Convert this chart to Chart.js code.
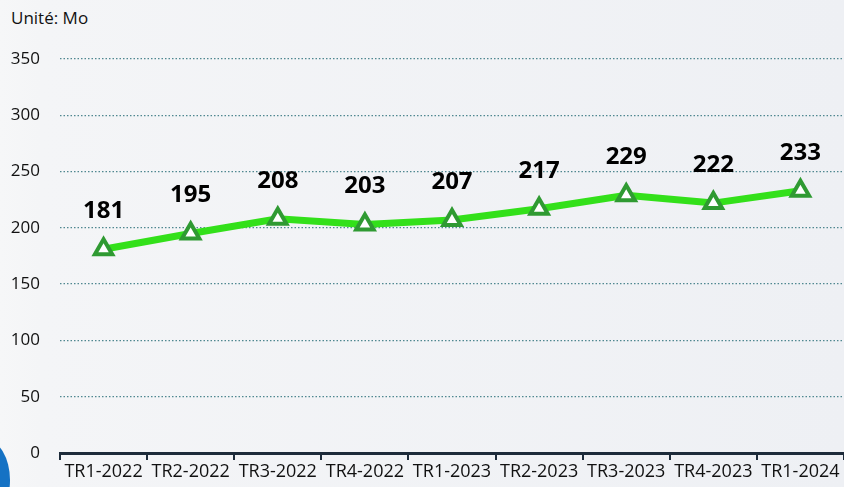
<!DOCTYPE html>
<html>
<head>
<meta charset="utf-8">
<script src="https://cdn.jsdelivr.net/npm/chart.js@4/dist/chart.umd.min.js"></script>
<style>
  html, body { margin: 0; padding: 0; }
  body { width: 844px; height: 487px; overflow: hidden; position: relative;
         background: linear-gradient(90deg, #f6f7f8 0px, #f4f5f7 40px, #eef0f4 844px); }
  #wrap { position: absolute; left: 0; top: 0; width: 844px; height: 487px; }
  #unit { position: absolute; left: 11px; top: 6px; font-family: "Open Sans", sans-serif;
          font-size: 17px; color: #111; }
  #blob { position: absolute; left: -38px; top: 440px; width: 48px; height: 80px;
          border-radius: 50%; background: #1572c4; }
</style>
</head>
<body>
<div id="blob"></div>
<div id="unit">Unité: Mo</div>
<div id="wrap"><canvas id="c" width="844" height="487"></canvas></div>
<script>
// quarterly average usage, in Mo
const quarters = ['TR1-2022', 'TR2-2022', 'TR3-2022', 'TR4-2022', 'TR1-2023', 'TR2-2023', 'TR3-2023', 'TR4-2023', 'TR1-2024'];
const usage = [181, 195, 208, 203, 207, 217, 229, 222, 233];
const yTicks = [0, 50, 100, 150, 200, 250, 300, 350];

// draws the value above each point
const valueLabels = {
    id: 'valueLabels',
    afterDatasetsDraw(chart) {
        const ctx = chart.ctx;
        const meta = chart.getDatasetMeta(0);
        ctx.save();
        ctx.font = 'bold 24px "Open Sans", sans-serif';
        ctx.fillStyle = '#000';
        ctx.textAlign = 'center';
        ctx.textBaseline = 'middle';
        meta.data.forEach((pt, i) => {
            ctx.fillText(String(usage[i]), pt.x, pt.y - 38);
        });
        ctx.restore();
    }
};

new Chart(document.getElementById('c').getContext('2d'), {
    type: 'line',
    data: {
        labels: quarters,
        datasets: [{
            data: usage,
            borderColor: '#33e01a',
            borderWidth: 7,
            tension: 0,
            pointStyle: 'triangle',
            pointRadius: 10,
            pointHoverRadius: 10,
            pointBorderWidth: 4,
            pointBorderColor: '#2f9a32',
            pointBackgroundColor: '#ffffff'
        }]
    },
    options: {
        responsive: false,
        animation: false,
        layout: { autoPadding: false, padding: { top: 59, left: 0, right: 0, bottom: 0 } },
        plugins: { legend: { display: false }, tooltip: { enabled: false } },
        scales: {
            x: {
                offset: true,
                grid: { offset: true, drawOnChartArea: false, drawTicks: true, tickLength: 7, color: '#1d2b3a', lineWidth: 2 },
                border: { display: true, color: '#1d2b3a', width: 3 },
                ticks: { color: '#111', font: { family: '"Open Sans", sans-serif', size: 18 }, padding: 1, maxRotation: 0, autoSkip: false },
                afterFit(scale) { scale.height = 34; scale.paddingLeft = 0; scale.paddingRight = 0; }
            },
            y: {
                min: 0,
                max: 350,
                afterBuildTicks(scale) { scale.ticks = yTicks.map(v => ({ value: v })); },
                grid: { drawTicks: false, color: '#4f8790', lineWidth: 1.3 },
                border: { display: false, dash: [1.5, 2] },
                ticks: { color: '#111', font: { family: '"Open Sans", sans-serif', size: 17 }, padding: 20 },
                afterFit(scale) { scale.width = 60; }
            }
        }
    },
    plugins: [valueLabels]
});
</script>
</body>
</html>
